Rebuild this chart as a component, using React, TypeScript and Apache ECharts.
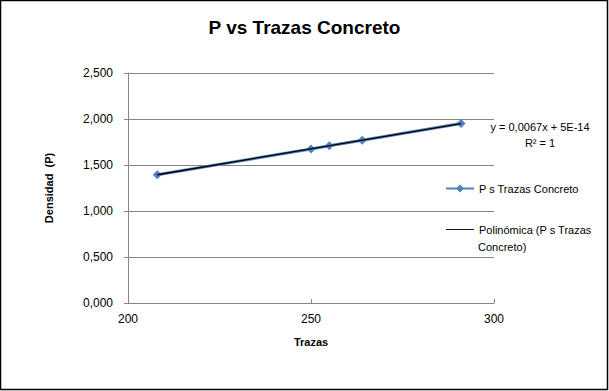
import React, { useEffect, useRef } from "react";
import * as echarts from "echarts";

const trazas = [208, 250, 255, 264, 291];
const densidad = [1.394, 1.675, 1.709, 1.769, 1.95];
const seriesName = "P s Trazas Concreto";
const trendName = "Polinómica (P s Trazas Concreto)";
const trendLine1 = "Polinómica (P s Trazas";
const trendLine2 = "Concreto)";
const titleText = "P vs Trazas Concreto";
const equationText = "y = 0,0067x + 5E-14";
const r2Text = "R² = 1";

const FONT = "Liberation Sans";

export default function App() {
  const ref = useRef<HTMLDivElement>(null);
  useEffect(() => {
    document.body.style.margin = "0";
    const chart = echarts.init(ref.current!, null, { renderer: "svg" });
    const pts = trazas.map((x, i) => [x, densidad[i]]);
    chart.setOption({
      animation: false,
      backgroundColor: "#ffffff",
      textStyle: { fontFamily: FONT },
      title: {
        text: titleText,
        left: "center",
        top: 13,
        textStyle: { fontFamily: FONT, fontSize: 19, fontWeight: "bold", color: "#000" },
      },
      grid: { left: 128, right: 115, top: 73, bottom: 88 },
      xAxis: {
        type: "value",
        min: 200,
        max: 300,
        interval: 50,
        name: "Trazas",
        nameLocation: "middle",
        nameGap: 33,
        nameTextStyle: { fontFamily: FONT, fontSize: 11, fontWeight: "bold", color: "#000" },
        axisLine: { show: true, lineStyle: { color: "#868686", width: 1 } },
        axisTick: { show: true, inside: true, length: 4, lineStyle: { color: "#868686" } },
        axisLabel: { fontFamily: FONT, fontSize: 12, color: "#000", margin: 10 },
        splitLine: { show: false },
      },
      yAxis: {
        type: "value",
        min: 0,
        max: 2.5,
        interval: 0.5,
        name: "Densidad  (P)",
        nameLocation: "middle",
        nameGap: 74,
        nameTextStyle: { fontFamily: FONT, fontSize: 11, fontWeight: "bold", color: "#000" },
        axisLine: { show: true, lineStyle: { color: "#868686", width: 1 } },
        axisTick: { show: true, length: 4, lineStyle: { color: "#868686" } },
        axisLabel: {
          fontFamily: FONT,
          fontSize: 12,
          color: "#000",
          margin: 15,
          formatter: (v: number) => v.toFixed(3).replace(".", ","),
        },
        splitLine: { show: true, lineStyle: { color: "#868686", width: 1 } },
      },
      legend: {
        orient: "vertical",
        left: 440,
        top: 178,
        itemGap: 30,
        itemWidth: 28,
        itemHeight: 10,
        textStyle: { fontFamily: FONT, fontSize: 11, color: "#000" },
        formatter: (name: string) => (name === trendName ? trendLine1 : name),
        data: [
          { name: seriesName },
          { name: trendName, icon: "path://M0,0 L30,0 L30,1 L0,1 Z", itemStyle: { color: "#000" } },
        ],
      },
      series: [
        {
          name: seriesName,
          type: "line",
          data: pts,
          symbol: "diamond",
          symbolSize: 9,
          lineStyle: { color: "#4F81BD", width: 3 },
          itemStyle: { color: "#4F81BD" },
          z: 2,
        },
        {
          name: trendName,
          type: "line",
          data: [pts[0], pts[pts.length - 1]],
          showSymbol: false,
          symbol: "none",
          lineStyle: { color: "#000", width: 1.3 },
          itemStyle: { color: "#000" },
          z: 3,
        },
      ],
      graphic: [
        {
          type: "rect",
          shape: { x: 0.5, y: 0.5, width: 607, height: 389 },
          style: { fill: "none", stroke: "#000", lineWidth: 1.5 },
          silent: true,
        },
        {
          type: "text",
          x: 540,
          y: 127,
          style: {
            text: equationText,
            fontFamily: FONT,
            fontSize: 11,
            fill: "#000",
            align: "center",
            verticalAlign: "middle",
          },
        },
        {
          type: "text",
          x: 540,
          y: 143,
          style: {
            text: r2Text,
            fontFamily: FONT,
            fontSize: 11,
            fill: "#000",
            align: "center",
            verticalAlign: "middle",
          },
        },
        {
          type: "text",
          x: 478,
          y: 247,
          style: {
            text: trendLine2,
            fontFamily: FONT,
            fontSize: 11,
            fill: "#000",
            align: "left",
            verticalAlign: "middle",
          },
        },
      ],
    });
    return () => chart.dispose();
  }, []);
  return <div ref={ref} style={{ width: 609, height: 391 }} />;
}
